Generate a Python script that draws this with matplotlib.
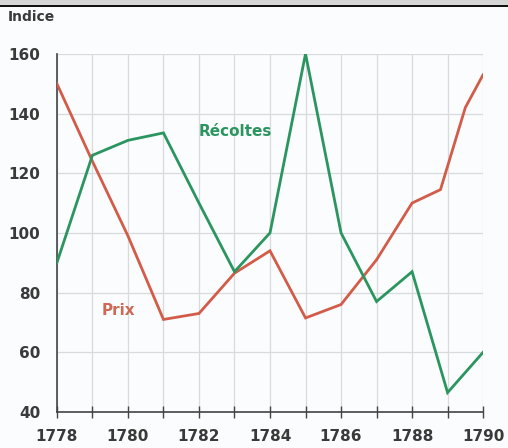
import matplotlib.pyplot as plt
from matplotlib.patches import Rectangle

years_prix = [1778, 1779, 1780, 1781, 1782, 1783, 1784, 1785, 1786, 1787, 1788, 1788.8, 1789.5, 1790]
prix = [150, 124, 99, 71, 73, 86.5, 94, 71.5, 76, 91, 110, 114.5, 142, 153]

years_recoltes = [1778, 1779, 1780, 1781, 1782, 1783, 1784, 1785, 1786, 1787, 1788, 1789, 1790]
recoltes = [90, 126, 131, 133.5, 110, 87, 100, 160, 100, 77, 87, 46.5, 60]

x_labels = [1778, 1780, 1782, 1784, 1786, 1788, 1790]
y_ticks = [40, 60, 80, 100, 120, 140, 160]

green = "#2b9560"
red = "#d25c49"
text_grey = "#3a3a3a"

fig = plt.figure(figsize=(5.08, 4.48), dpi=100)
fig.patch.set_facecolor("#fbfcfd")

# scanned page header remnant
fig.patches.append(Rectangle((0, 0.988), 1, 0.012, transform=fig.transFigure,
                             facecolor="#d6d6d6", edgecolor="none"))
fig.patches.append(Rectangle((0, 0.984), 1, 0.005, transform=fig.transFigure,
                             facecolor="#111111", edgecolor="none"))

ax = fig.add_axes([0.112, 0.0804, 0.839, 0.7995])
ax.set_facecolor("#fbfcfd")

ax.plot(years_prix, prix, color=red, linewidth=2.0, solid_joinstyle="miter", zorder=3)
ax.plot(years_recoltes, recoltes, color=green, linewidth=2.0, solid_joinstyle="miter", zorder=4)

ax.set_xlim(1778, 1790)
ax.set_ylim(40, 160)

ax.set_xticks(range(1778, 1791))
ax.set_xticklabels([str(y) if y in x_labels else "" for y in range(1778, 1791)])
ax.set_yticks(y_ticks)
ax.set_yticklabels([str(v) for v in y_ticks])

ax.grid(True, color="#d8dade", linewidth=0.9, zorder=0)
ax.set_axisbelow(True)

for side in ["top", "right"]:
    ax.spines[side].set_visible(False)
for side in ["left", "bottom"]:
    ax.spines[side].set_color("#444444")
    ax.spines[side].set_linewidth(1.2)

ax.tick_params(axis="x", direction="inout", length=8, width=1.0, color="#444444",
               labelsize=11, labelcolor=text_grey, pad=8)
ax.tick_params(axis="y", length=0, labelsize=11, labelcolor=text_grey, pad=12)
for lbl in ax.get_xticklabels() + ax.get_yticklabels():
    lbl.set_fontweight("bold")

ax.text(1782.0, 134, "Récoltes", color=green, fontsize=11, fontweight="bold", va="center")
ax.text(1779.25, 74, "Prix", color="#cc6a55", fontsize=11, fontweight="bold", va="center")

fig.text(0.016, 0.962, "Indice", color=text_grey, fontsize=10, fontweight="bold",
         va="center", ha="left")

fig.savefig("out.png", dpi=100, facecolor=fig.get_facecolor())
